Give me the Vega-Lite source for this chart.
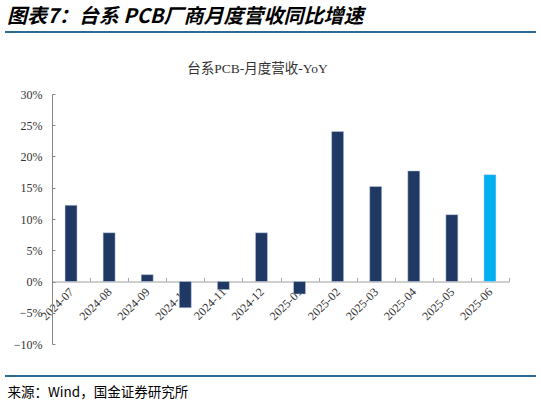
{
  "$schema": "https://vega.github.io/schema/vega-lite/v6.json",
  "autosize": {"type": "none"},
  "width": 457,
  "height": 250,
  "padding": {"left": 52, "top": 94, "right": 32, "bottom": 62},
  "background": "white",
  "config": {"view": {"stroke": null}},
  "title": {
    "text": "图表7：台系 PCB厂商月度营收同比增速",
    "anchor": "start",
    "frame": "group",
    "dx": -45,
    "offset": 4,
    "font": "Noto Sans CJK SC",
    "fontSize": 20,
    "fontWeight": "bold",
    "fontStyle": "italic",
    "color": "#000000"
  },
  "data": {
    "values": [
      {"month": "2024-07", "yoy": 0.122, "latest": "no"},
      {"month": "2024-08", "yoy": 0.078, "latest": "no"},
      {"month": "2024-09", "yoy": 0.011, "latest": "no"},
      {"month": "2024-10", "yoy": -0.042, "latest": "no"},
      {"month": "2024-11", "yoy": -0.013, "latest": "no"},
      {"month": "2024-12", "yoy": 0.078, "latest": "no"},
      {"month": "2025-01", "yoy": -0.020, "latest": "no"},
      {"month": "2025-02", "yoy": 0.240, "latest": "no"},
      {"month": "2025-03", "yoy": 0.152, "latest": "no"},
      {"month": "2025-04", "yoy": 0.177, "latest": "no"},
      {"month": "2025-05", "yoy": 0.107, "latest": "no"},
      {"month": "2025-06", "yoy": 0.171, "latest": "yes"}
    ]
  },
  "layer": [
    {
      "mark": {"type": "bar", "width": 12, "stroke": "#C9D3E3", "strokeWidth": 0.5},
      "encoding": {
        "x": {
          "field": "month",
          "type": "ordinal",
          "sort": null,
          "scale": {"paddingInner": 0, "paddingOuter": 0},
          "axis": {
            "title": "来源：Wind，国金证券研究所",
            "titleFont": "Noto Sans CJK SC",
            "titleFontSize": 13.5,
            "titleFontWeight": "normal",
            "titleColor": "#000000",
            "titleAlign": "left",
            "titleAnchor": "start",
            "titleBaseline": "middle",
            "titleX": -45,
            "titleY": 111,
            "orient": "bottom",
            "offset": -62.5,
            "tickBand": "extent",
            "tickSize": -4,
            "tickColor": "#A6A6A6",
            "domainColor": "#BFBFBF",
            "domainWidth": 1.5,
            "labelAngle": -45,
            "labelAlign": "right",
            "labelBaseline": "middle",
            "labelPadding": 12,
            "labelFont": "Liberation Serif",
            "labelFontSize": 12,
            "labelColor": "#333333",
            "labelOverlap": false
          }
        },
        "y": {
          "field": "yoy",
          "type": "quantitative",
          "scale": {"domain": [-0.1, 0.3], "nice": false},
          "axis": {
            "title": "台系PCB-月度营收-YoY",
            "titleAngle": 0,
            "titleFont": "Liberation Serif, Noto Sans CJK SC",
            "titleFontSize": 13.5,
            "titleFontWeight": "normal",
            "titleColor": "#333333",
            "titleAlign": "center",
            "titleBaseline": "middle",
            "titleX": 205,
            "titleY": -26,
            "values": [-0.1, -0.05, 0, 0.05, 0.1, 0.15, 0.2, 0.25, 0.3],
            "format": ".0%",
            "grid": false,
            "tickSize": -3,
            "tickColor": "#888888",
            "domainColor": "#888888",
            "labelPadding": 13,
            "labelFont": "Liberation Serif",
            "labelFontSize": 12,
            "labelColor": "#333333"
          }
        },
        "color": {
          "field": "latest",
          "type": "nominal",
          "scale": {"domain": ["no", "yes"], "range": ["#1F3864", "#00B0F0"]},
          "legend": null
        }
      }
    },
    {
      "mark": {"type": "rule", "color": "#2C6A94", "strokeWidth": 2},
      "encoding": {
        "x": {"value": -47},
        "x2": {"value": 484},
        "y": {"value": -62}
      }
    },
    {
      "mark": {"type": "rule", "color": "#2C6A94", "strokeWidth": 2},
      "encoding": {
        "x": {"value": -47},
        "x2": {"value": 484},
        "y": {"value": 282}
      }
    }
  ]
}
